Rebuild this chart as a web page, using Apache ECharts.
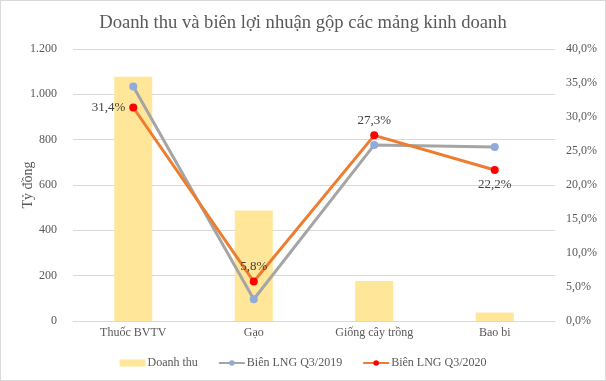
<!DOCTYPE html>
<html><head><meta charset="utf-8">
<script src="https://cdn.jsdelivr.net/npm/echarts@6/dist/echarts.min.js"></script>
<style>html,body{margin:0;padding:0;background:#fff}#c{width:604px;height:379px;border:1px solid #d9d9d9}</style>
</head><body><div id="c"></div>
<script>
const categories = ['Thuốc BVTV', 'Gạo', 'Giống cây trồng', 'Bao bi'];
const revenue = [1078, 488, 176, 37];
const margin2019 = [0.345, 0.032, 0.259, 0.256];
const margin2020 = [0.314, 0.058, 0.273, 0.222];
const labelPos2020 = ['left', 'top', 'top', 'bottom'];

const F = '"Liberation Serif", "Times New Roman", serif';
const chart = echarts.init(document.getElementById('c'));
const pct = v => (v * 100).toFixed(1).replace('.', ',') + '%';
chart.setOption({
  animation: false,
  title: { text: 'Doanh thu và biên lợi nhuận gộp các mảng kinh doanh', left: 'center', top: 8,
    textStyle: { fontFamily: F, fontSize: 18.6, fontWeight: 'normal', color: '#595959' } },
  grid: { left: 72, right: 50, top: 48, bottom: 59 },
  legend: { bottom: 6, left: 'center', itemGap: 20, itemWidth: 26, itemHeight: 7,
    textStyle: { fontFamily: F, fontSize: 12, color: '#595959', padding: [0, 0, 0, -3] },
    data: [{ name: 'Doanh thu', icon: 'rect' }, { name: 'Biên LNG Q3/2019' }, { name: 'Biên LNG Q3/2020' }] },
  xAxis: { type: 'category', data: categories,
    axisLine: { lineStyle: { color: '#d9d9d9' } }, axisTick: { show: false },
    axisLabel: { fontFamily: F, fontSize: 12, color: '#595959', margin: 6 } },
  yAxis: [
    { type: 'value', min: 0, max: 1200, interval: 200, name: 'Tỷ đồng', nameLocation: 'middle', nameGap: 38,
      nameMoveOverlap: false,
      nameTextStyle: { fontFamily: F, fontSize: 14, color: '#595959' },
      axisLabel: { fontFamily: F, fontSize: 12, color: '#595959', margin: 16,
        formatter: v => String(v).replace(/\B(?=(\d{3})+(?!\d))/g, '.') },
      splitLine: { lineStyle: { color: '#d9d9d9' } }, axisLine: { show: false }, axisTick: { show: false } },
    { type: 'value', min: 0, max: 0.4, interval: 0.05, position: 'right',
      axisLabel: { fontFamily: F, fontSize: 12, color: '#595959', margin: 11, formatter: pct },
      splitLine: { show: false }, axisLine: { show: false }, axisTick: { show: false } }
  ],
  series: [
    { name: 'Doanh thu', type: 'bar', data: revenue, barWidth: 38, itemStyle: { color: '#FFE699' } },
    { name: 'Biên LNG Q3/2019', type: 'line', yAxisIndex: 1, data: margin2019, symbol: 'circle', symbolSize: 8,
      lineStyle: { color: '#A5A5A5', width: 3 }, itemStyle: { color: '#8FAADC' } },
    { name: 'Biên LNG Q3/2020', type: 'line', yAxisIndex: 1, z: 3, symbol: 'circle', symbolSize: 8,
      data: margin2020.map((v, i) => ({ value: v, label: { position: labelPos2020[i] } })),
      lineStyle: { color: '#ED7D31', width: 3 }, itemStyle: { color: '#FF0000' },
      label: { show: true, fontFamily: F, fontSize: 13, color: '#404040', distance: 4, formatter: p => pct(p.value) } }
  ]
});
</script></body></html>
